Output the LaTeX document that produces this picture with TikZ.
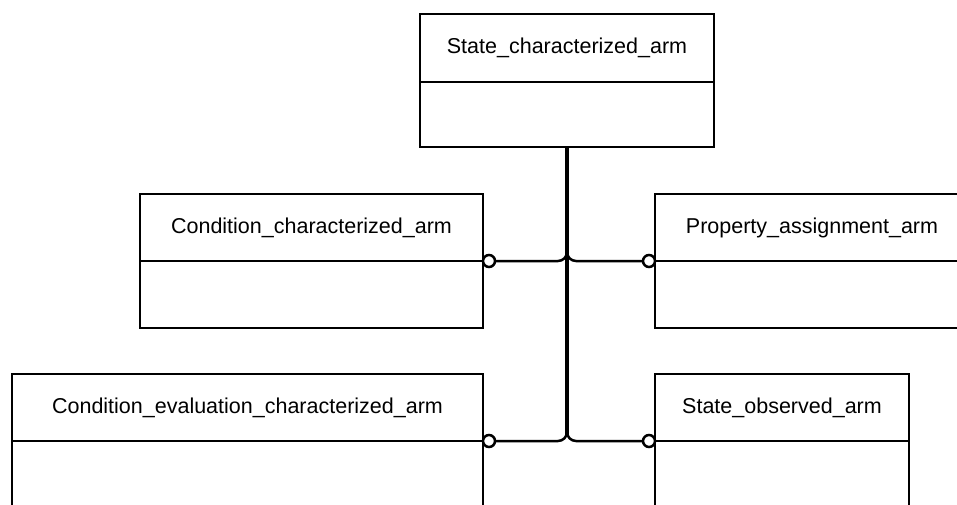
\documentclass[tikz,border=0pt]{standalone}
\usepackage{fontspec}
\setmainfont{Liberation Sans}
\usetikzlibrary{positioning}

\begin{document}
\begin{tikzpicture}[x=1pt, y=-1pt,
		entity/.style={draw, line width=2.5pt, inner sep=0pt, outer sep=0pt, minimum height=67pt, font=\fontsize{21.5}{26}\selectfont},
		ring/.style={draw, circle, line width=2.5pt, fill=white, inner sep=0pt, outer sep=0pt, minimum size=12pt},
		link/.style={line width=2.5pt, rounded corners=9pt}]
		\clip (0,0) rectangle (957,505);

		% entity boxes
		\node[entity, minimum width=294pt, minimum height=68pt] (stch) at (567,48) {State\_characterized\_arm};
		\node[entity, minimum width=294pt, minimum height=65pt, below=0pt of stch] (stcb) {};

		\node[entity, minimum width=343pt] (cdch) at (311.5,227.5) {Condition\_characterized\_arm};
		\node[entity, minimum width=343pt, below=0pt of cdch] (cdcb) {};

		\node[entity, minimum width=314pt] (pash) at (812,227.5) {Property\_assignment\_arm};
		\node[entity, minimum width=314pt, below=0pt of pash] (pasb) {};

		\node[entity, minimum width=471pt] (cevh) at (247.5,407.5) {Condition\_evaluation\_characterized\_arm};
		\node[entity, minimum width=471pt, minimum height=72pt, below=0pt of cevh] (cevb) {};

		\node[entity, minimum width=254pt] (stoh) at (782,407.5) {State\_observed\_arm};
		\node[entity, minimum width=254pt, minimum height=72pt, below=0pt of stoh] (stob) {};

		% rings
		\node[ring, right=0pt of cdch.south east] (cdcr) {};
		\node[ring, left=0pt of pash.south west] (pasr) {};
		\node[ring, right=0pt of cevh.south east] (cevr) {};
		\node[ring, left=0pt of stoh.south west] (stor) {};

		% links
		\draw[line width=4.5pt] (stcb.south) -- (stcb.south |- cevr.north);
		\draw[link] (cdcr.east) -| (stcb.south);
		\draw[link] (pasr.west) -| (stcb.south);
		\draw[link] (cevr.east) -| (stcb.south);
		\draw[link] (stor.west) -| (stcb.south);

\end{tikzpicture}
\end{document}
